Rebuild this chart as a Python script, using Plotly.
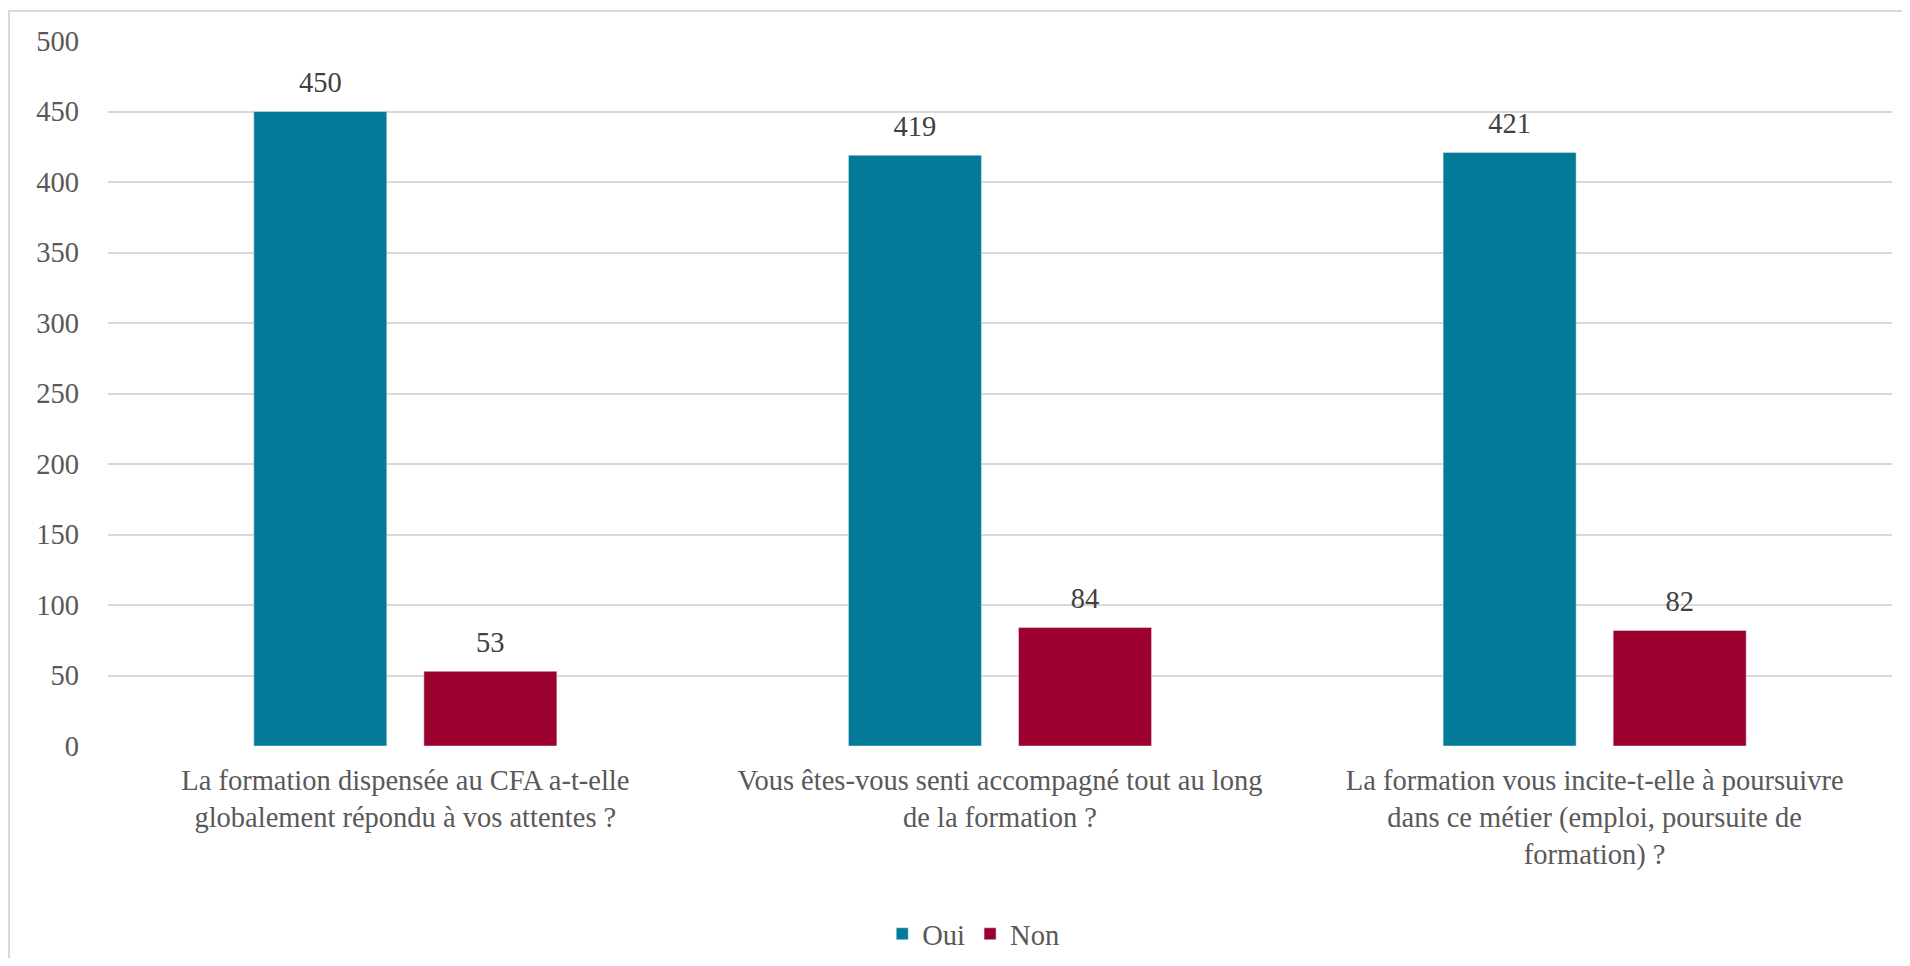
import plotly.graph_objects as go

# data
categories = [
    "La formation dispensée au CFA a-t-elle<br>globalement répondu à vos attentes ?",
    "Vous êtes-vous senti accompagné tout au long<br>de la formation ?",
    "La formation vous incite-t-elle à poursuivre<br>dans ce métier (emploi, poursuite de<br>formation) ?",
]
oui = [450, 419, 421]
non = [53, 84, 82]
y_ticks = [0, 50, 100, 150, 200, 250, 300, 350, 400, 450, 500]

FONT = "Liberation Serif"
FS = 28.5
# page body has an 8px margin, so figure is a bit smaller than the window
W, H = 1894, 950
ML, MR, MT, MB = 100, 10, 33, 212
BARGAP = 0.428

fig = go.Figure()
for name, vals, col in [("Oui", oui, "#037A98"), ("Non", non, "#9B002F")]:
    fig.add_trace(go.Bar(x=categories, y=vals, name=name, marker_color=col,
                         offsetgroup=name))
    # value labels, lifted a bit above the bars
    fig.add_trace(go.Scatter(x=categories, y=vals, text=vals, mode="markers+text",
                             textposition="top center", offsetgroup=name,
                             marker=dict(size=18, color="rgba(0,0,0,0)"),
                             textfont=dict(color="#404040", size=FS, family=FONT),
                             showlegend=False, hoverinfo="skip", cliponaxis=False))

pw = W - ML - MR
ph = H - MT - MB
# outer chart border (right and bottom edges fall outside the page)
fig.add_shape(type="rect", xref="paper", yref="paper",
              x0=(1 - ML) / pw, x1=(W + 20 - ML) / pw,
              y0=-(H + 20 - MT - ph) / ph, y1=(ph + MT - 3) / ph,
              line=dict(color="#d9d9d9", width=2), layer="below")

fig.update_layout(
    width=W, height=H,
    margin=dict(l=ML, r=MR, t=MT, b=MB, autoexpand=False),
    paper_bgcolor="white", plot_bgcolor="white",
    font=dict(family=FONT, size=FS, color="#595959"),
    barmode="group", bargap=BARGAP, bargroupgap=0.218,
    scattermode="group", scattergap=BARGAP,
    showlegend=True,
    legend=dict(orientation="h", x=0.485, xanchor="center", y=-0.267, yanchor="middle",
                font=dict(size=FS, color="#595959")),
    xaxis=dict(showline=False, ticks="", tickfont=dict(size=FS), ticklabelstandoff=14,
               automargin=False),
    yaxis=dict(range=[0, 500], tickvals=y_ticks, showgrid=True, gridcolor="#d9d9d9",
               gridwidth=2, zeroline=False, showline=False, ticklabelstandoff=28,
               tickfont=dict(size=FS), automargin=False),
)

fig.write_html("out.html")
